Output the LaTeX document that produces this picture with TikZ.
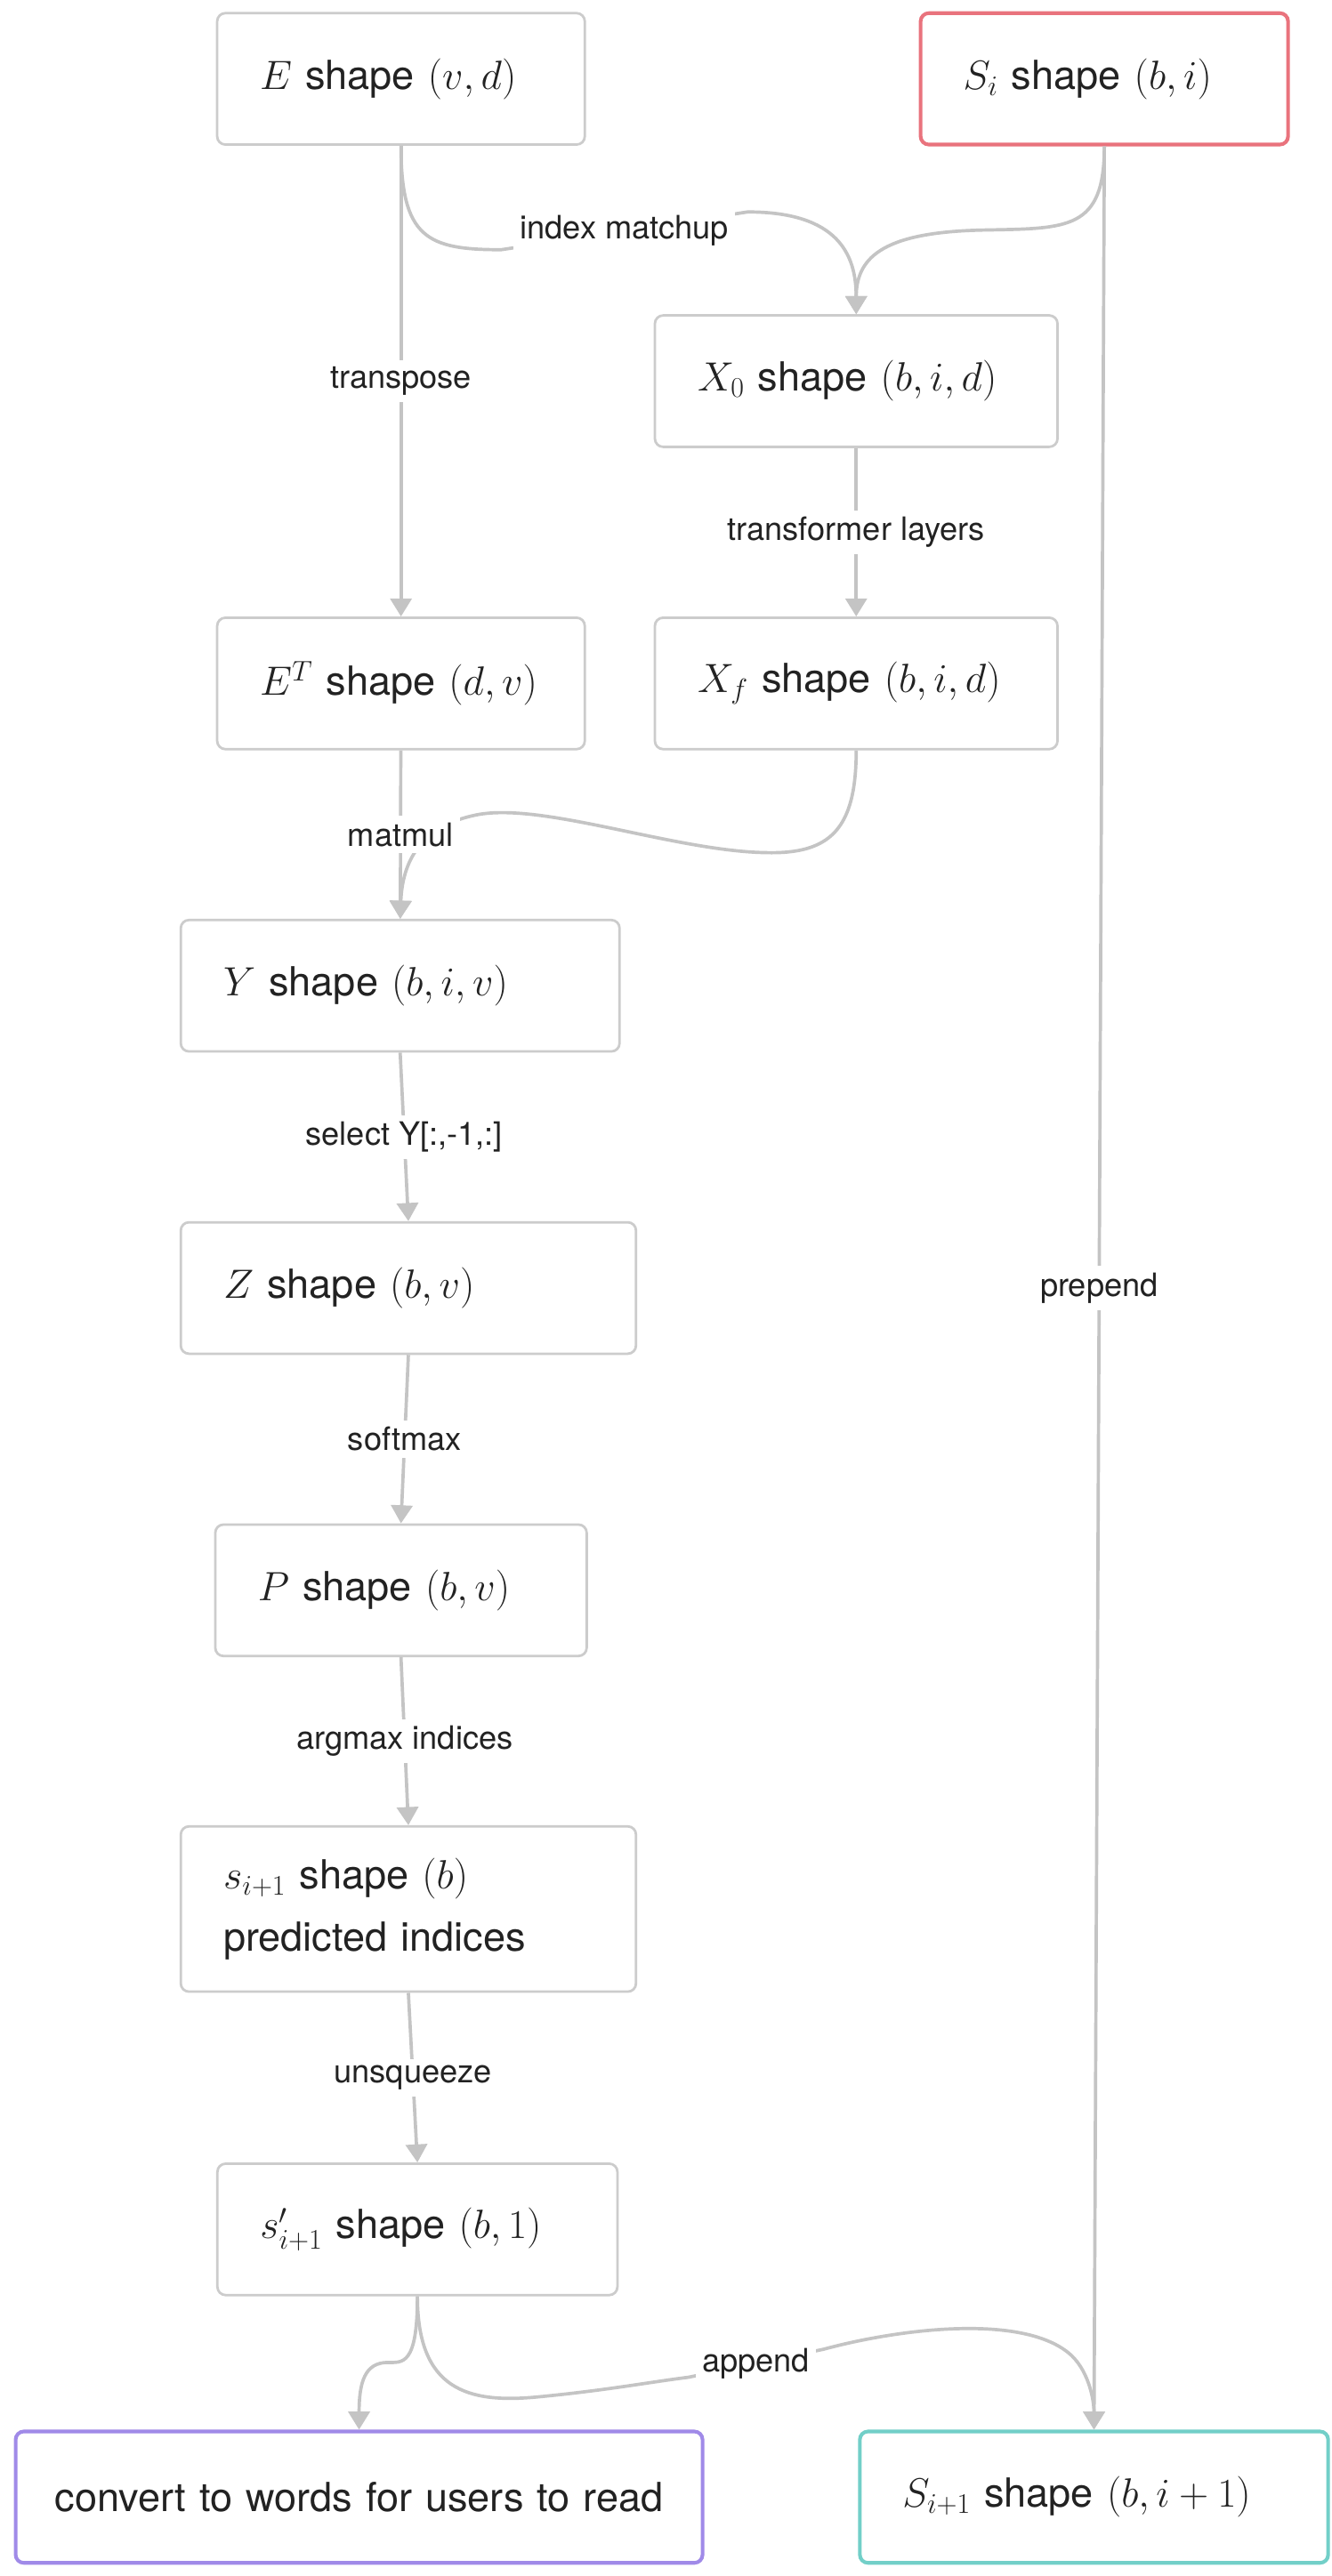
\documentclass[tikz,border=0pt]{standalone}
\usepackage{fontspec}
\setmainfont{TeX Gyre Heros}
\usetikzlibrary{arrows.meta}
\definecolor{edgegray}{HTML}{C4C4C4}
\definecolor{boxgray}{HTML}{CCCCCC}
\definecolor{txt}{HTML}{222222}
\definecolor{startred}{HTML}{E9737D}
\definecolor{outpurple}{HTML}{A08AE8}
\definecolor{outteal}{HTML}{72CFC8}

\begin{document}
\begin{tikzpicture}[x=1pt,y=-1pt,
    box/.style={draw=boxgray,line width=1.5pt,rounded corners=5pt,fill=white,
      minimum height=80pt,inner xsep=26pt,inner ysep=0pt,align=left,text width=#1,
      text=txt,font=\fontsize{24.4}{37.6}\selectfont},
    lbl/.style={fill=white,text=txt,inner sep=4pt,font=\fontsize{19.6}{24}\selectfont},
    flow/.style={draw=edgegray,line width=2pt,-{Triangle[length=11pt,width=13pt]}}]
  \useasboundingbox[fill=white] (0,0) rectangle (810,1568);

  % nodes
  \node[box=171.7pt] (E)   at (244,48)   {$E$ shape $(v,d)$};
  \node[box=171.6pt,draw=startred,line width=2.2pt] (Si) at (672,48) {$S_i$ shape $(b,i)$};
  \node[box=193pt]   (X0)  at (521,232)  {$X_0$ shape $(b,i,d)$};
  \node[box=171.7pt] (ET)  at (244,416)  {$E^T$ shape $(d,v)$};
  \node[box=193pt]   (Xf)  at (521,416)  {$X_f$ shape $(b,i,d)$};
  \node[box=215pt]   (Y)   at (243.5,600) {$Y$ shape $(b,i,v)$};
  \node[box=225pt]   (Z)   at (248.5,784) {$Z$ shape $(b,v)$};
  \node[box=174pt]   (P)   at (244,968)  {$P$ shape $(b,v)$};
  \node[box=225pt,minimum height=100.6pt] (s) at (248.5,1162) {$s_{i+1}$ shape $(b)$\\predicted indices};
  \node[box=191.4pt] (sp)  at (254,1357) {$s'_{i+1}$ shape $(b,1)$};
  \node[box=418pt,inner xsep=0pt,align=center,draw=outpurple,line width=2.2pt] (conv) at (218.5,1520) {convert to words for users to read};
  \node[box=233pt,draw=outteal,line width=2.2pt] (Si1) at (665.7,1520) {$S_{i+1}$ shape $(b,i+1)$};

  % edges
  \draw[flow] (E.south) .. controls (244,145) and (260,152) .. (305,152)
    -- node[lbl]{index matchup} (455,129) .. controls (510,129) and (521,155) .. (X0.north);
  \draw[flow] (Si.south) .. controls (672,140) and (650,139) .. (600,140)
    .. controls (540,141) and (521,155) .. (X0.north);
  \draw[flow] (E) -- node[lbl]{transpose} (ET);
  \draw[flow] (X0) -- node[lbl]{transformer layers} (Xf);
  \draw[flow] (Xf.south) .. controls (521,505) and (505,520) .. (466,519)
    .. controls (410,518) and (330,488) .. (290,496) .. controls (260,502) and (245,520) .. (Y.north);
  \draw[flow] (ET) -- node[lbl]{matmul} (Y);
  \draw[flow] (Y.south) -- node[lbl]{select Y[:,-1,:]} (Z.north);
  \draw[flow] (Z.south) -- node[lbl]{softmax} (P.north);
  \draw[flow] (P.south) -- node[lbl]{argmax indices} (s.north);
  \draw[flow] (s.south) -- node[lbl]{unsqueeze} (sp.north);
  \draw[flow] (Si.south) -- node[lbl]{prepend} (Si1.north);
  \draw[flow] (sp.south) .. controls (254,1440) and (245,1438) .. (236,1438)
    .. controls (222,1438) and (218.5,1450) .. (conv.north);
  \draw[flow] (sp.south) .. controls (254,1455) and (285,1463) .. (327,1459)
    .. controls (369,1455) and (395,1450) .. (419,1447)
    -- node[lbl]{append} (501,1430) .. controls (545,1418) and (620,1408) .. (650,1432)
    .. controls (662,1441.6) and (665.7,1460) .. (Si1.north);
\end{tikzpicture}
\end{document}
